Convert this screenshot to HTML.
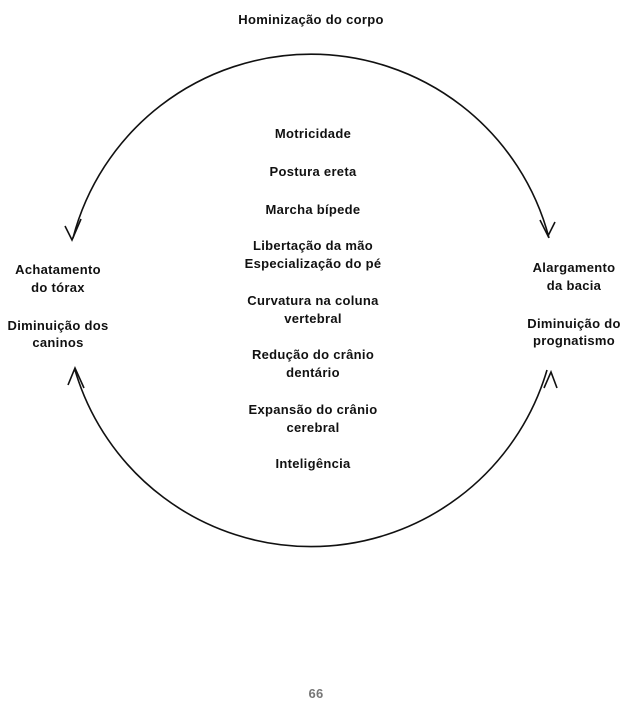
<!DOCTYPE html>
<html><head><style>
body{margin:0;background:#fff;}
svg text{font-family:"Liberation Sans",sans-serif;font-size:13px;font-weight:bold;letter-spacing:0.3px;fill:#111;text-anchor:middle;}
</style></head><body>
<svg width="639" height="701" viewBox="0 0 639 701" xmlns="http://www.w3.org/2000/svg">
<g fill="none" stroke="#111" stroke-width="1.6">
<path d="M73,238 A246,246 0 0 1 549,238"/>
<path d="M75,370 A246,246 0 0 0 547,370"/>
<path d="M65,226 L72,240 L81,219"/>
<path d="M540,220 L548,236 L555,222"/>
<path d="M68,385 L75,368 L84,388"/>
<path d="M544,388 L551,372 L557,388"/>
</g>
<text x="311" y="24">Hominização do corpo</text>
<text x="313" y="138">Motricidade</text>
<text x="313" y="176">Postura ereta</text>
<text x="313" y="214">Marcha bípede</text>
<text x="313" y="250">Libertação da mão</text>
<text x="313" y="268">Especialização do pé</text>
<text x="313" y="305">Curvatura na coluna</text>
<text x="313" y="323">vertebral</text>
<text x="313" y="359">Redução do crânio</text>
<text x="313" y="377">dentário</text>
<text x="313" y="414">Expansão do crânio</text>
<text x="313" y="432">cerebral</text>
<text x="313" y="468">Inteligência</text>
<text x="58" y="274">Achatamento</text>
<text x="58" y="292">do tórax</text>
<text x="58" y="330">Diminuição dos</text>
<text x="58" y="347">caninos</text>
<text x="574" y="272">Alargamento</text>
<text x="574" y="290">da bacia</text>
<text x="574" y="328">Diminuição do</text>
<text x="574" y="345">prognatismo</text>
<text x="316" y="698" style="fill:#777;font-size:13px">66</text>
</svg>
</body></html>
